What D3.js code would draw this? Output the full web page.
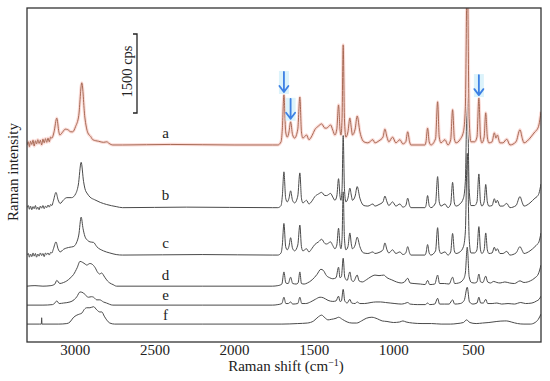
<!DOCTYPE html>
<html>
<head>
<meta charset="utf-8">
<script src="https://cdn.jsdelivr.net/npm/d3@7/dist/d3.min.js"></script>
<style>
  body { margin: 0; background: #fff; }
  svg text { font-family: "Liberation Serif", "Times New Roman", serif; fill: #222; }
</style>
</head>
<body>
<svg width="550" height="381"></svg>
<script>
// Raman spectra a-f: [shift cm-1, counts above the trace's own baseline]
var traceNames = ["a", "b", "c", "d", "e", "f"];
var traceOffsets = [3740, 2550, 1650, 1060, 700, 340];
var xTicks = [3000, 2500, 2000, 1500, 1000, 500];
var arrowPeaks = [1687, 1645, 463];   // bands marked on trace a
var scaleBarCps = 1500;

var spectrumA = [
  [3300, 0], [3292, 60], [3285, -30], [3278, 70], [3270, 10], [3262, 90], [3255, -20], [3247, 80],
  [3240, 20], [3232, 100], [3224, 30], [3216, 90], [3208, 0], [3200, 110], [3192, 40], [3184, 120],
  [3176, 50], [3168, 130], [3160, 60], [3152, 150], [3144, 130], [3130, 250], [3113, 510], [3100, 250],
  [3094, 190], [3075, 250], [3060, 300], [3044, 290], [3025, 250], [3013, 250], [2995, 350], [2975, 560],
  [2956, 1180], [2937, 530], [2918, 230], [2900, 160], [2887, 100], [2850, 70], [2820, 50], [2799, 60],
  [2785, 30], [2761, 0], [2700, 0], [2400, 10], [2000, 0], [1760, 0],
  [1725, 0], [1705, 60], [1697, 300], [1687, 950], [1676, 250], [1666, 150], [1655, 250], [1645, 440],
  [1633, 200], [1620, 130], [1600, 300], [1587, 910], [1577, 250], [1568, 130], [1545, 190], [1530, 100],
  [1510, 180], [1493, 290], [1470, 360], [1450, 400], [1430, 320], [1419, 320], [1394, 380], [1380, 280],
  [1367, 190], [1355, 300], [1344, 760], [1335, 300], [1329, 190], [1322, 500], [1315, 1900], [1307, 500],
  [1298, 150], [1285, 250], [1273, 510], [1263, 300], [1257, 190], [1240, 300], [1227, 550], [1210, 250],
  [1195, 100], [1185, 60], [1160, 40], [1128, 100], [1116, 40], [1090, 80], [1065, 150], [1053, 300],
  [1040, 150], [1028, 60], [1005, 150], [984, 40], [959, 100], [940, 20], [922, 60], [910, 250],
  [898, 60], [890, 0], [802, 0], [795, 60], [785, 320], [775, 60], [764, 0], [735, 120],
  [722, 820], [712, 150], [701, 40], [676, 100], [657, 0], [640, 100], [628, 670], [617, 120],
  [607, 40], [582, 100], [560, 250], [548, 700], [536, 3300], [524, 500], [513, 60], [490, 60],
  [475, 150], [463, 890], [453, 150], [444, 40], [430, 150], [420, 610], [410, 150], [400, 40],
  [380, 60], [366, 230], [356, 130], [347, 190], [331, 40], [312, 40], [288, 110], [268, 0],
  [230, 60], [205, 290], [190, 120], [180, 40], [142, 130], [111, 250], [98, 290], [86, 380], [73, 630]
];

var spectrumB = [
  [3300, 0], [3292, 40], [3285, -30], [3278, 30], [3270, -40], [3262, 20], [3255, -20], [3247, 40],
  [3240, -30], [3232, 10], [3224, -40], [3216, 30], [3208, -10], [3200, 40], [3192, -20], [3184, 30],
  [3176, 0], [3168, 50], [3160, 10], [3152, 60], [3144, 40], [3135, 120], [3118, 290], [3105, 150],
  [3092, 80], [3070, 150], [3050, 190], [3020, 190], [2995, 260], [2978, 430], [2960, 860], [2945, 500],
  [2937, 370], [2920, 260], [2904, 200], [2875, 150], [2840, 100], [2800, 60], [2740, 20], [2700, 0],
  [2300, 10], [1760, 0],
  [1725, 0], [1705, 40], [1697, 220], [1687, 680], [1676, 180], [1666, 110], [1655, 180], [1645, 320],
  [1633, 140], [1620, 90], [1600, 220], [1587, 660], [1577, 180], [1568, 90], [1545, 140], [1530, 70],
  [1510, 130], [1493, 210], [1470, 260], [1450, 290], [1430, 230], [1419, 230], [1394, 270], [1380, 200],
  [1367, 140], [1355, 220], [1344, 550], [1335, 220], [1329, 140], [1322, 360], [1315, 1370], [1307, 360],
  [1298, 110], [1285, 180], [1273, 370], [1263, 220], [1257, 140], [1240, 220], [1227, 400], [1210, 180],
  [1195, 70], [1185, 40], [1160, 30], [1128, 70], [1116, 30], [1090, 60], [1065, 110], [1053, 220],
  [1040, 110], [1028, 40], [1005, 110], [984, 30], [959, 70], [940, 10], [922, 40], [910, 180],
  [898, 40], [890, 0], [802, 0], [795, 40], [785, 230], [775, 40], [764, 0], [735, 90],
  [722, 590], [712, 110], [701, 30], [676, 70], [657, 0], [640, 70], [628, 480], [617, 90],
  [607, 30], [582, 70], [560, 180], [548, 500], [536, 2240], [524, 360], [513, 40], [490, 40],
  [475, 110], [463, 640], [453, 110], [444, 30], [430, 110], [420, 440], [410, 110], [400, 30],
  [380, 40], [366, 170], [356, 90], [347, 140], [331, 30], [312, 30], [288, 80], [268, 0],
  [230, 40], [205, 210], [190, 90], [180, 30], [142, 90], [111, 180], [98, 210], [86, 270], [73, 450]
];

var spectrumC = [
  [3300, 0], [3292, 30], [3285, -40], [3278, 20], [3270, -30], [3262, 40], [3255, -20], [3247, 30],
  [3240, -40], [3232, 20], [3224, -20], [3216, 40], [3208, -10], [3200, 30], [3192, -30], [3184, 40],
  [3176, 10], [3168, 40], [3160, 0], [3152, 50], [3144, 40], [3135, 110], [3118, 250], [3105, 120],
  [3092, 60], [3070, 110], [3030, 150], [3010, 160], [2990, 230], [2975, 380], [2960, 720], [2948, 500],
  [2937, 360], [2920, 280], [2904, 250], [2882, 240], [2862, 160], [2820, 80], [2780, 40], [2740, 10],
  [2700, 0], [2200, 10], [1760, 0],
  [1725, 0], [1705, 40], [1697, 190], [1687, 600], [1676, 160], [1666, 100], [1655, 170], [1645, 330],
  [1633, 130], [1620, 80], [1600, 190], [1587, 570], [1577, 160], [1568, 80], [1545, 120], [1530, 60],
  [1510, 130], [1493, 200], [1470, 250], [1450, 300], [1430, 220], [1419, 210], [1394, 250], [1380, 180],
  [1367, 120], [1355, 190], [1344, 510], [1335, 190], [1329, 120], [1322, 320], [1315, 1200], [1307, 320],
  [1298, 100], [1285, 160], [1273, 420], [1263, 190], [1257, 120], [1240, 190], [1227, 340], [1210, 160],
  [1195, 60], [1185, 40], [1160, 30], [1128, 60], [1116, 30], [1090, 50], [1065, 100], [1053, 230],
  [1040, 100], [1028, 40], [1005, 100], [984, 30], [959, 60], [940, 10], [922, 40], [910, 160],
  [898, 40], [890, 0], [802, 0], [795, 40], [785, 200], [775, 40], [764, 0], [735, 80],
  [722, 520], [712, 100], [701, 30], [676, 60], [657, 0], [640, 60], [628, 410], [617, 80],
  [607, 30], [582, 60], [560, 160], [548, 440], [536, 1930], [524, 320], [513, 40], [490, 40],
  [475, 100], [463, 540], [453, 100], [444, 30], [430, 100], [420, 420], [410, 100], [400, 30],
  [380, 40], [366, 150], [356, 80], [347, 120], [331, 30], [312, 30], [288, 70], [268, 0],
  [230, 40], [205, 160], [190, 80], [180, 30], [142, 80], [111, 160], [98, 200], [86, 250], [73, 420]
];

var spectrumD = [
  [3300, 0], [3250, 10], [3200, 0], [3150, 10], [3125, 40], [3113, 110], [3094, 50], [3070, 70],
  [3050, 100], [3030, 150], [3008, 220], [2985, 350], [2967, 470], [2950, 450], [2935, 420], [2925, 400],
  [2905, 430], [2893, 420], [2872, 350], [2856, 260], [2843, 230], [2832, 250], [2812, 170], [2795, 100],
  [2780, 60], [2760, 30], [2738, 0], [2200, 0], [1760, 0],
  [1725, 10], [1700, 40], [1687, 270], [1675, 60], [1660, 50], [1645, 170], [1632, 50], [1610, 40],
  [1598, 60], [1587, 270], [1577, 50], [1560, 40], [1540, 60], [1510, 120], [1480, 220], [1455, 320],
  [1440, 300], [1420, 200], [1400, 160], [1380, 140], [1360, 160], [1344, 360], [1335, 160], [1326, 180],
  [1315, 530], [1305, 170], [1290, 110], [1273, 270], [1262, 110], [1250, 90], [1227, 210], [1215, 100],
  [1195, 80], [1170, 120], [1140, 180], [1115, 210], [1090, 200], [1060, 210], [1040, 160], [1010, 120],
  [980, 80], [950, 60], [930, 80], [910, 150], [895, 60], [870, 50], [830, 40], [800, 30],
  [785, 110], [772, 30], [740, 40], [722, 210], [710, 50], [680, 50], [650, 40], [628, 170],
  [615, 50], [590, 60], [560, 130], [548, 250], [536, 740], [524, 180], [510, 70], [490, 60],
  [475, 80], [463, 230], [452, 80], [438, 70], [420, 190], [408, 80], [390, 60], [370, 90],
  [350, 70], [330, 60], [300, 80], [270, 60], [240, 50], [205, 100], [180, 70], [140, 100],
  [110, 160], [90, 230], [73, 400]
];

var spectrumE = [
  [3300, 0], [3200, 0], [3140, 10], [3125, 40], [3113, 80], [3098, 30], [3070, 40], [3030, 60],
  [3005, 100], [2987, 160], [2967, 250], [2945, 230], [2930, 180], [2914, 150], [2895, 160], [2882, 150],
  [2862, 100], [2843, 100], [2820, 60], [2801, 40], [2761, 0], [2200, 0], [1760, 0],
  [1725, 10], [1700, 30], [1687, 150], [1675, 30], [1660, 30], [1645, 60], [1632, 20], [1600, 30],
  [1587, 150], [1575, 30], [1550, 30], [1520, 60], [1490, 110], [1460, 150], [1440, 140], [1410, 90],
  [1380, 70], [1360, 80], [1344, 170], [1335, 70], [1326, 80], [1315, 300], [1305, 80], [1290, 40],
  [1273, 110], [1262, 40], [1240, 30], [1227, 60], [1210, 30], [1180, 30], [1140, 50], [1110, 60],
  [1080, 60], [1050, 50], [1020, 40], [990, 30], [950, 20], [930, 30], [910, 50], [895, 20],
  [850, 10], [800, 10], [785, 40], [772, 10], [740, 20], [722, 130], [710, 20], [680, 20],
  [650, 20], [628, 100], [615, 20], [580, 30], [555, 90], [536, 340], [522, 60], [500, 20],
  [475, 40], [463, 150], [452, 40], [435, 40], [420, 110], [408, 30], [380, 30], [350, 40],
  [320, 20], [280, 30], [240, 20], [200, 50], [170, 30], [130, 40], [100, 80], [85, 110], [73, 170]
];

var spectrumF = [
  [3300, 0], [3220, 0], [3210, 0], [3208, 120], [3206, 0], [3100, 0], [3050, 10], [3030, 40],
  [3010, 120], [2987, 170], [2970, 190], [2955, 210], [2940, 280], [2925, 310], [2905, 310], [2882, 330],
  [2862, 270], [2843, 230], [2830, 230], [2815, 150], [2800, 80], [2780, 20], [2750, 0], [2200, 0],
  [1700, 0], [1600, 10], [1540, 20], [1500, 60], [1470, 140], [1450, 170], [1430, 120], [1410, 80],
  [1390, 90], [1360, 110], [1344, 130], [1320, 90], [1290, 40], [1260, 20], [1230, 20], [1200, 60],
  [1170, 110], [1135, 130], [1100, 100], [1070, 60], [1040, 50], [1000, 30], [960, 40], [940, 60],
  [920, 40], [880, 20], [820, 10], [760, 10], [700, 0], [640, 0], [600, 10], [560, 30],
  [540, 80], [520, 30], [480, 10], [440, 20], [400, 30], [350, 50], [300, 60], [288, 60],
  [260, 40], [220, 10], [180, 0], [140, 0], [110, 30], [90, 90], [73, 190]
];

var spectra = [spectrumA, spectrumB, spectrumC, spectrumD, spectrumE, spectrumF];

// Layout
var svg = d3.select("svg");
var margin = {left: 27, top: 8, right: 9, bottom: 39};
var width = +svg.attr("width");
var height = +svg.attr("height");
var plotW = width - margin.left - margin.right;
var plotH = height - margin.top - margin.bottom;

var x = d3.scaleLinear().domain([3300, 73]).range([margin.left, margin.left + plotW]);
var y = d3.scaleLinear().domain([0, 6340]).range([margin.top + plotH, margin.top]);

svg.append("defs").append("clipPath")
    .attr("id", "plotClip")
  .append("rect")
    .attr("x", margin.left)
    .attr("y", margin.top)
    .attr("width", plotW)
    .attr("height", plotH);

var plot = svg.append("g").attr("clip-path", "url(#plotClip)");

var lineFor = function(offset) {
    return d3.line()
        .x(d => x(d[0]))
        .y(d => y(offset + d[1]))
        .curve(d3.curveMonotoneX);
};

// traces, bottom one first so a sits on top
for (var i = spectra.length - 1; i >= 0; i--) {
    var path = lineFor(traceOffsets[i])(spectra[i]);
    if (i === 0) {
        // trace a is highlighted in red
        plot.append("path")
            .attr("d", path)
            .attr("fill", "none")
            .attr("stroke", "#fbdcd8")
            .attr("stroke-width", 3.2)
            .attr("stroke-linejoin", "round");
        plot.append("path")
            .attr("d", path)
            .attr("fill", "none")
            .attr("stroke", "#a86a55")
            .attr("stroke-width", 1);
    } else {
        plot.append("path")
            .attr("d", path)
            .attr("fill", "none")
            .attr("stroke", "#4a4a4a")
            .attr("stroke-width", 1);
    }
}

// trace letters
var labelDy = [7, 8, 7, 6, 5, 4];
svg.selectAll(".traceLabel")
    .data(traceNames)
    .enter().append("text")
    .attr("class", "traceLabel")
    .attr("x", x(2430))
    .attr("y", (d, i) => y(traceOffsets[i]) - labelDy[i])
    .attr("text-anchor", "middle")
    .style("font-size", "15px")
    .text(d => d);

// arrows over trace a
var arrows = svg.selectAll(".arrow")
    .data(arrowPeaks)
    .enter().append("g")
    .attr("class", "arrow")
    .attr("transform", d => {
        var pt = spectrumA.find(p => p[0] === d);
        return `translate(${x(d)},${y(traceOffsets[0] + pt[1]) - 3})`;
    });

arrows.append("rect")
    .attr("x", -5)
    .attr("y", -21)
    .attr("width", 10)
    .attr("height", 23)
    .attr("fill", "#dcf3fb");

arrows.append("path")
    .attr("d", "M0,-20V0M-4.5,-6L0,0L4.5,-6")
    .attr("fill", "none")
    .attr("stroke", "#3d80e4")
    .attr("stroke-width", 1.8)
    .attr("stroke-linecap", "round")
    .attr("stroke-linejoin", "round");

// scale bar
var barTop = 34;
var barBottom = barTop + (y(0) - y(scaleBarCps));
svg.append("path")
    .attr("d", `M133,${barTop}H137V${barBottom}H133`)
    .attr("fill", "none")
    .attr("stroke", "#222")
    .attr("stroke-width", 1.3);

svg.append("text")
    .attr("transform", `translate(132,${(barTop + barBottom) / 2 - 2}) rotate(-90)`)
    .attr("text-anchor", "middle")
    .style("font-size", "14.5px")
    .text(scaleBarCps + " cps");

// frame
svg.append("rect")
    .attr("x", margin.left)
    .attr("y", margin.top)
    .attr("width", plotW)
    .attr("height", plotH)
    .attr("fill", "none")
    .attr("stroke", "#333")
    .attr("stroke-width", 1.3);

// x axis
var xAxis = svg.append("g")
    .attr("transform", `translate(0,${margin.top + plotH})`)
    .call(d3.axisBottom(x).tickValues(xTicks).tickSize(0).tickPadding(2).tickFormat(d3.format("d")));
xAxis.select(".domain").remove();
xAxis.selectAll("text")
    .style("font-family", "'Liberation Serif', serif")
    .style("font-size", "15px")
    .attr("fill", "#222");

var xTitle = svg.append("text")
    .attr("x", 286)
    .attr("y", 371)
    .attr("text-anchor", "middle")
    .style("font-size", "15px");
xTitle.append("tspan").text("Raman shift (cm");
xTitle.append("tspan").attr("dy", -5).style("font-size", "10px").text("\u22121");
xTitle.append("tspan").attr("dy", 5).text(")");

svg.append("text")
    .attr("transform", "translate(18,172) rotate(-90)")
    .attr("text-anchor", "middle")
    .style("font-size", "15px")
    .text("Raman intensity");
</script>
</body>
</html>
